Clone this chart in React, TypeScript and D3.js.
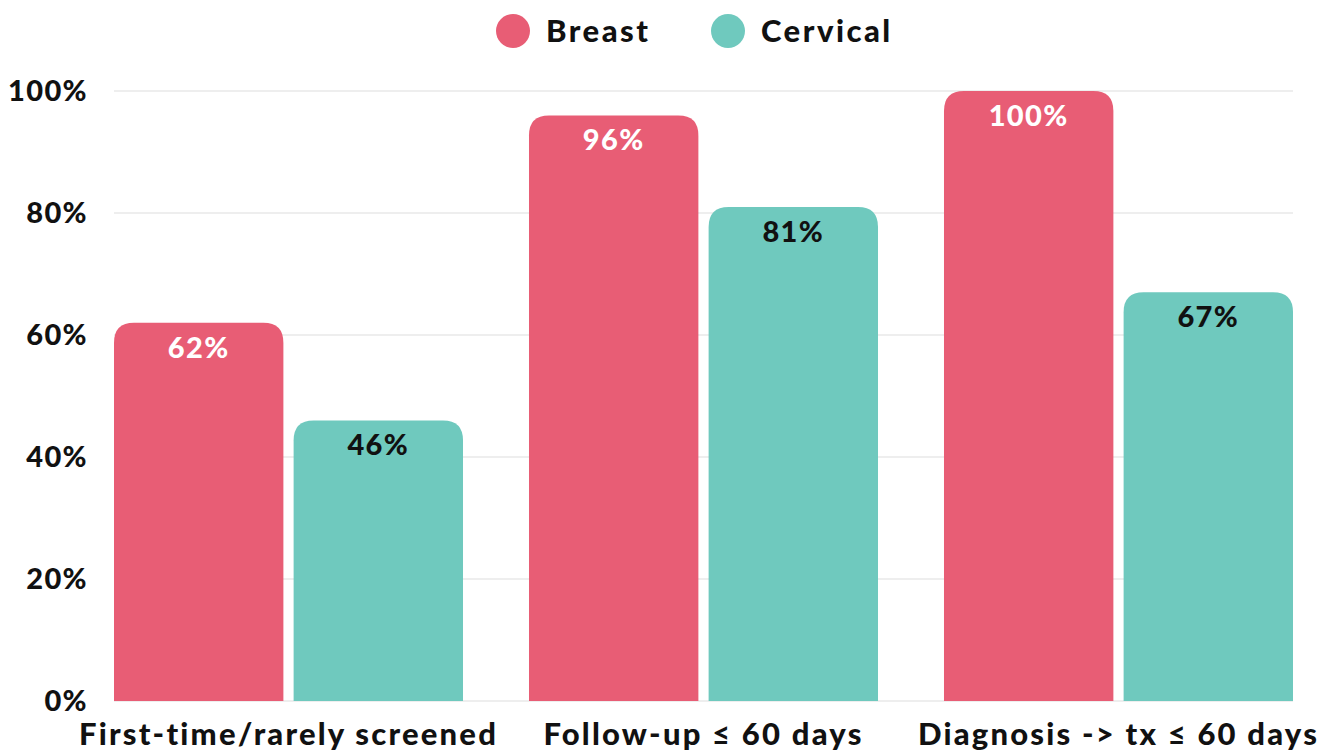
import React from "react";
import * as d3 from "d3";

const categories = ["First-time/rarely screened", "Follow-up ≤ 60 days", "Diagnosis -> tx ≤ 60 days"];
const seriesNames = ["Breast", "Cervical"];
const breastValues = [62, 96, 100];
const cervicalValues = [46, 81, 67];
const yTicks = [0, 20, 40, 60, 80, 100];

const colors = ["#E85D75", "#6FC9BE"];
const labelColors = ["#ffffff", "#111111"];
const font = "Lato, 'Open Sans', sans-serif";

const W = 1320;
const H = 751;
const left = 114;
const right = 1293;
const top = 91;
const bottom = 701;

function topRounded(x: number, y: number, w: number, h: number, r: number) {
  const rr = Math.min(r, h, w / 2);
  return `M${x},${y + h}V${y + rr}Q${x},${y} ${x + rr},${y}H${x + w - rr}Q${x + w},${y} ${x + w},${y + rr}V${y + h}Z`;
}

export default function App() {
  const x0 = d3.scaleBand().domain(categories).range([left, right]).paddingInner(0.159).paddingOuter(0);
  const x1 = d3.scaleBand().domain(seriesNames).range([0, x0.bandwidth()]).paddingInner(0.057);
  const y = d3.scaleLinear().domain([0, 100]).range([bottom, top]);

  const rows = categories.map((c, i) => ({ cat: c, vals: [breastValues[i], cervicalValues[i]] }));

  return (
    <svg width={W} height={H} style={{ position: "absolute", left: 0, top: 0 }}>
      <rect width={W} height={H} fill="#fff" />
      {yTicks.map((t) => (
        <g key={t}>
          <line x1={left} x2={right} y1={y(t)} y2={y(t)} stroke="#dddddd" strokeWidth={1} />
          <text x={88} y={y(t)} dy="0.35em" textAnchor="end" fontFamily={font} fontWeight={900} fontSize={29} letterSpacing={1.4} fill="#111">
            {t}%
          </text>
        </g>
      ))}
      {rows.map((row) => (
        <g key={row.cat} transform={`translate(${x0(row.cat)},0)`}>
          {row.vals.map((v, j) => {
            const bx = x1(seriesNames[j])!;
            const bw = x1.bandwidth();
            return (
              <g key={j}>
                <path d={topRounded(bx, y(v), bw, bottom - y(v), 20)} fill={colors[j]} />
                <text x={bx + bw / 2} y={y(v) + 35} textAnchor="middle" fontFamily={font} fontWeight={900} fontSize={29} letterSpacing={1.4} fill={labelColors[j]}>
                  {v}%
                </text>
              </g>
            );
          })}
          <text x={x0.bandwidth() / 2} y={745} textAnchor="middle" fontFamily={font} fontWeight={900} fontSize={31} letterSpacing={2.2} fill="#111">
            {row.cat}
          </text>
        </g>
      ))}
      <g>
        {seriesNames.map((s, i) => {
          const cx = i === 0 ? 513 : 728;
          return (
            <g key={s}>
              <circle cx={cx} cy={31} r={17} fill={colors[i]} />
              <text x={cx + 33} y={31} dy="0.35em" fontFamily={font} fontWeight={900} fontSize={31} letterSpacing={2.5} fill="#111">
                {s}
              </text>
            </g>
          );
        })}
      </g>
    </svg>
  );
}
